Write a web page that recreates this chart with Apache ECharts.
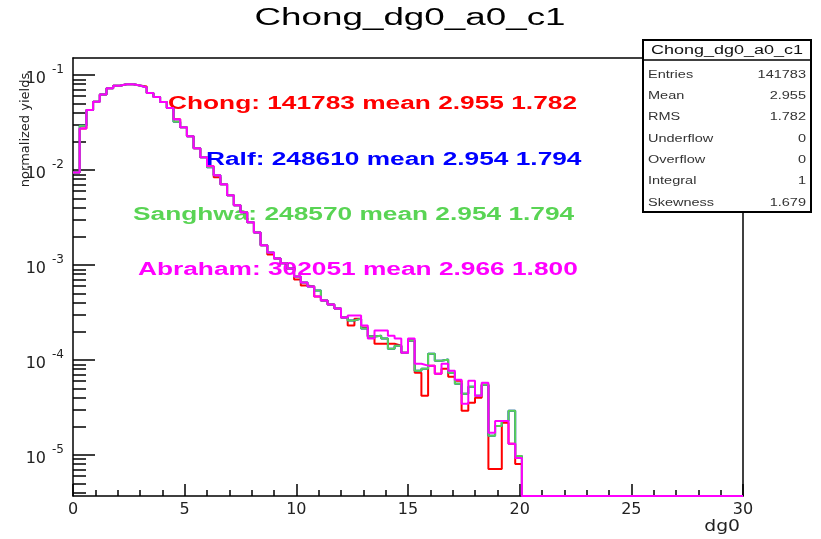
<!DOCTYPE html>
<html>
<head>
<meta charset="utf-8">
<script src="https://cdn.jsdelivr.net/npm/echarts@6/dist/echarts.min.js"></script>
<style>
  html, body { margin: 0; padding: 0; background: #ffffff; }
  #chart { width: 821px; height: 539px; }
</style>
</head>
<body>
<div id="chart"></div>
<script>
// dg0 histograms: 100 bins of width 0.3 over [0, 30], normalised to unit integral
const binWidth = 0.3;
const xMin = 0;
const xMax = 30;
const yMin = 3.69e-6;
const yMax = 0.1511;

const xTickLabels = [0, 5, 10, 15, 20, 25, 30];
const yDecades = [1e-5, 1e-4, 1e-3, 1e-2, 1e-1];

const abraham = [
  0.00940, 0.02738, 0.04271, 0.05225, 0.06255, 0.07241, 0.07711, 0.07976, 0.07976, 0.07748,
  0.07383, 0.06457, 0.05857, 0.05188, 0.04482, 0.03431, 0.02826, 0.02271, 0.01697, 0.01363,
  0.01095, 0.00880, 0.00707, 0.00541, 0.00425, 0.00358, 0.00281, 0.00220, 0.00161, 0.00135,
  0.00117, 0.00104, 0.000918, 0.000756, 0.000654, 0.000593, 0.000465, 0.000422, 0.000383, 0.000347,
  0.000279, 0.000293, 0.000293, 0.000230, 0.000168, 0.000204, 0.000204, 0.000180, 0.000168, 0.000119,
  0.000168, 0.0000913, 0.0000870, 0.0000870, 0.0000716, 0.0000913, 0.0000770, 0.0000619, 0.0000345, 0.0000604,
  0.0000419, 0.0000575, 0.0000171, 0.0000228, 0.0000228, 0.0000131, 0.0000093, 0, 0, 0,
  0, 0, 0, 0, 0, 0, 0, 0, 0, 0,
  0, 0, 0, 0, 0, 0, 0, 0, 0, 0,
  0, 0, 0, 0, 0, 0, 0, 0, 0, 0
];

const chong = [
  0.00940, 0.02738, 0.04271, 0.05225, 0.06255, 0.07241, 0.07711, 0.07976, 0.07976, 0.07748,
  0.07560, 0.06457, 0.05857, 0.05188, 0.04482, 0.03431, 0.02826, 0.02271, 0.01697, 0.01363,
  0.01095, 0.00839, 0.00707, 0.00541, 0.00425, 0.00358, 0.00281, 0.00220, 0.00161, 0.00129,
  0.00117, 0.00104, 0.000918, 0.000703, 0.000608, 0.000593, 0.000465, 0.000422, 0.000383, 0.000347,
  0.000279, 0.000230, 0.000272, 0.000219, 0.000176, 0.000148, 0.000148, 0.000148, 0.000141, 0.000119,
  0.000160, 0.0000733, 0.0000419, 0.0000870, 0.0000716, 0.0000809, 0.0000665, 0.0000604, 0.0000291, 0.0000354,
  0.0000400, 0.0000548, 0.00000711, 0.00000711, 0.0000218, 0.0000131, 0.00000804, 0, 0, 0,
  0, 0, 0, 0, 0, 0, 0, 0, 0, 0,
  0, 0, 0, 0, 0, 0, 0, 0, 0, 0,
  0, 0, 0, 0, 0, 0, 0, 0, 0, 0
];

const ralf = [
  0.00940, 0.02920, 0.04271, 0.05225, 0.06255, 0.07241, 0.07711, 0.07976, 0.07976, 0.07748,
  0.07383, 0.06457, 0.05857, 0.05188, 0.04482, 0.03213, 0.02826, 0.02271, 0.01697, 0.01363,
  0.01070, 0.00880, 0.00707, 0.00541, 0.00425, 0.00358, 0.00281, 0.00220, 0.00161, 0.00135,
  0.00117, 0.00104, 0.000918, 0.000756, 0.000654, 0.000593, 0.000538, 0.000422, 0.000383, 0.000347,
  0.000279, 0.000260, 0.000272, 0.000214, 0.000176, 0.000180, 0.000168, 0.000131, 0.000141, 0.000119,
  0.000160, 0.0000770, 0.0000809, 0.000116, 0.0000982, 0.000101, 0.0000733, 0.0000561, 0.0000440, 0.0000522,
  0.0000419, 0.0000548, 0.0000159, 0.0000202, 0.0000228, 0.0000291, 0.00000976, 0, 0, 0,
  0, 0, 0, 0, 0, 0, 0, 0, 0, 0,
  0, 0, 0, 0, 0, 0, 0, 0, 0, 0,
  0, 0, 0, 0, 0, 0, 0, 0, 0, 0
];

const sanghwa = [
  0.00940, 0.02920, 0.04271, 0.05225, 0.06255, 0.07241, 0.07711, 0.07976, 0.07976, 0.07748,
  0.07383, 0.06457, 0.05857, 0.05188, 0.04482, 0.03213, 0.02826, 0.02271, 0.01697, 0.01363,
  0.01070, 0.00880, 0.00707, 0.00541, 0.00425, 0.00358, 0.00281, 0.00220, 0.00161, 0.00135,
  0.00117, 0.00104, 0.000918, 0.000756, 0.000654, 0.000593, 0.000538, 0.000422, 0.000383, 0.000347,
  0.000279, 0.000260, 0.000272, 0.000214, 0.000176, 0.000180, 0.000168, 0.000131, 0.000141, 0.000119,
  0.000160, 0.0000770, 0.0000809, 0.000116, 0.0000982, 0.000101, 0.0000733, 0.0000561, 0.0000440, 0.0000522,
  0.0000419, 0.0000548, 0.0000159, 0.0000202, 0.0000228, 0.0000291, 0.00000976, 0, 0, 0,
  0, 0, 0, 0, 0, 0, 0, 0, 0, 0,
  0, 0, 0, 0, 0, 0, 0, 0, 0, 0,
  0, 0, 0, 0, 0, 0, 0, 0, 0, 0
];

const histograms = [
  { name: 'Chong', values: chong, color: '#ff0000', entries: '141783', mean: '2.955', rms: '1.782' },
  { name: 'Ralf', values: ralf, color: '#0000ff', entries: '248610', mean: '2.954', rms: '1.794' },
  { name: 'Sanghwa', values: sanghwa, color: '#59d454', entries: '248570', mean: '2.954', rms: '1.794' },
  { name: 'Abraham', values: abraham, color: '#ff00ff', entries: '302051', mean: '2.966', rms: '1.800' }
];

// Empty bins sit on the lower frame edge, as a log-scale histogram does
function stepPoints(values) {
  const pts = [];
  values.forEach(function (v, i) {
    pts.push([xMin + i * binWidth, v > 0 ? v : yMin]);
  });
  const last = values[values.length - 1];
  pts.push([xMin + values.length * binWidth, last > 0 ? last : yMin]);
  return pts;
}

const yMinor = [];
[1e-6, 1e-5, 1e-4, 1e-3, 1e-2].forEach(function (d) {
  for (let m = 2; m <= 9; m++) {
    const v = m * d;
    if (v > yMin && v < yMax) yMinor.push(v);
  }
});

const gridBox = { left: 73, right: 78, top: 58, bottom: 43 };
const axisColor = '#000000';
const tickFont = 'DejaVu Sans';

const chart = echarts.init(document.getElementById('chart'), null, { renderer: 'canvas' });

const option = {
  animation: false,
  backgroundColor: '#ffffff',
  grid: { left: gridBox.left, right: gridBox.right, top: gridBox.top, bottom: gridBox.bottom, containLabel: false },
  xAxis: [
    {
      type: 'value', min: xMin, max: xMax, interval: 5,
      axisLine: { show: true, onZero: false, lineStyle: { color: axisColor, width: 1.5 } },
      axisTick: { show: true, inside: true, length: 12, lineStyle: { color: axisColor, width: 1.5 } },
      minorTick: { show: true, splitNumber: 5, length: 6, lineStyle: { color: axisColor, width: 1.5 } },
      axisLabel: {
        show: true, margin: 6, color: '#222222', fontFamily: tickFont, fontSize: 16,
        customValues: xTickLabels,
        formatter: function (v) { return String(v); }
      },
      splitLine: { show: false }
    },
    {
      type: 'value', position: 'top', min: xMin, max: xMax,
      axisLine: { show: true, onZero: false, lineStyle: { color: axisColor, width: 1.5 } },
      axisTick: { show: false }, axisLabel: { show: false }, splitLine: { show: false }
    }
  ],
  yAxis: [
    {
      type: 'log', logBase: 10, min: yMin, max: yMax, position: 'left',
      axisLine: { show: true, onZero: false, lineStyle: { color: axisColor, width: 1.5 } },
      axisTick: { show: true, inside: true, length: 22, customValues: yDecades, lineStyle: { color: axisColor, width: 1.5 } },
      axisLabel: {
        show: true, margin: 9, customValues: yDecades,
        formatter: function (v) {
          const e = Math.round(Math.log10(v));
          return '{b|10}{e|' + e + '}';
        },
        rich: {
          b: { fontFamily: tickFont, fontSize: 16, color: '#222222', padding: [8, 0, 0, 0] },
          e: { fontFamily: tickFont, fontSize: 12, color: '#222222', padding: [0, 0, 10, 6] }
        }
      },
      splitLine: { show: false }
    },
    {
      type: 'log', logBase: 10, min: yMin, max: yMax, position: 'left',
      axisLine: { show: false },
      axisTick: { show: true, inside: true, length: 13, customValues: yMinor, lineStyle: { color: axisColor, width: 1.5 } },
      axisLabel: { show: false }, splitLine: { show: false }
    },
    {
      type: 'log', logBase: 10, min: yMin, max: yMax, position: 'right',
      axisLine: { show: true, onZero: false, lineStyle: { color: axisColor, width: 1.5 } },
      axisTick: { show: false }, axisLabel: { show: false }, splitLine: { show: false }
    }
  ],
  series: histograms.map(function (h) {
    return {
      name: h.name, type: 'line', step: 'end',
      xAxisIndex: 0, yAxisIndex: 0,
      data: stepPoints(h.values),
      showSymbol: false, symbol: 'none', clip: true,
      lineStyle: { color: h.color, width: 2 },
      emphasis: { disabled: true }
    };
  }),
  graphic: []
};

// Title, axis titles, per-sample annotations and the statistics box
const graphics = [];
graphics.push({
  type: 'text', x: 410, y: 19, scaleX: 1.6,
  style: { text: 'Chong_dg0_a0_c1', fill: '#000000', font: '23px "Liberation Sans"',
           align: 'center', verticalAlign: 'middle', textAlign: 'center', textVerticalAlign: 'middle' }
});
graphics.push({
  type: 'text', x: 26, y: 130, rotation: Math.PI / 2,
  style: { text: 'normalized yields', fill: '#222222', font: '13px "DejaVu Sans"',
           align: 'center', verticalAlign: 'middle', textAlign: 'center', textVerticalAlign: 'middle' }
});
graphics.push({
  type: 'text', x: 740, y: 527, scaleX: 1.25,
  style: { text: 'dg0', fill: '#222222', font: '15px "DejaVu Sans"',
           align: 'right', verticalAlign: 'middle', textAlign: 'right', textVerticalAlign: 'middle' }
});

const notePos = [[168, 104], [206, 160], [133, 215], [138, 270]];
histograms.forEach(function (h, i) {
  graphics.push({
    type: 'text', x: notePos[i][0], y: notePos[i][1], scaleX: 1.46,
    style: { text: h.name + ': ' + h.entries + ' mean ' + h.mean + ' ' + h.rms,
             fill: h.color, font: 'bold 18px "Liberation Sans"',
             align: 'left', verticalAlign: 'middle', textAlign: 'left', textVerticalAlign: 'middle' }
  });
});

const statRows = [
  ['Entries', '141783'], ['Mean', '2.955'], ['RMS', '1.782'], ['Underflow', '0'],
  ['Overflow', '0'], ['Integral', '1'], ['Skewness', '1.679']
];
const box = { x: 643, y: 40, w: 168, h: 172, head: 20 };
graphics.push({
  type: 'rect', shape: { x: box.x, y: box.y, width: box.w, height: box.h },
  style: { fill: '#ffffff', stroke: '#000000', lineWidth: 2 }, z: 10
});
graphics.push({
  type: 'line', shape: { x1: box.x, y1: box.y + box.head, x2: box.x + box.w, y2: box.y + box.head },
  style: { stroke: '#000000', lineWidth: 1.5 }, z: 11
});
graphics.push({
  type: 'text', x: box.x + box.w / 2, y: box.y + box.head / 2 + 1, scaleX: 1.5, z: 11,
  style: { text: 'Chong_dg0_a0_c1', fill: '#111111', font: '12px "Liberation Sans"',
           align: 'center', verticalAlign: 'middle', textAlign: 'center', textVerticalAlign: 'middle' }
});
statRows.forEach(function (r, i) {
  const y = box.y + box.head + 15 + i * 21.3;
  graphics.push({
    type: 'text', x: box.x + 5, y: y, scaleX: 1.45, z: 11,
    style: { text: r[0], fill: '#333333', font: '10px "Liberation Sans"',
             align: 'left', verticalAlign: 'middle', textAlign: 'left', textVerticalAlign: 'middle' }
  });
  graphics.push({
    type: 'text', x: box.x + box.w - 5, y: y, scaleX: 1.45, z: 11,
    style: { text: r[1], fill: '#333333', font: '10px "Liberation Sans"',
             align: 'right', verticalAlign: 'middle', textAlign: 'right', textVerticalAlign: 'middle' }
  });
});
option.graphic = graphics;

chart.setOption(option);
</script>
</body>
</html>
